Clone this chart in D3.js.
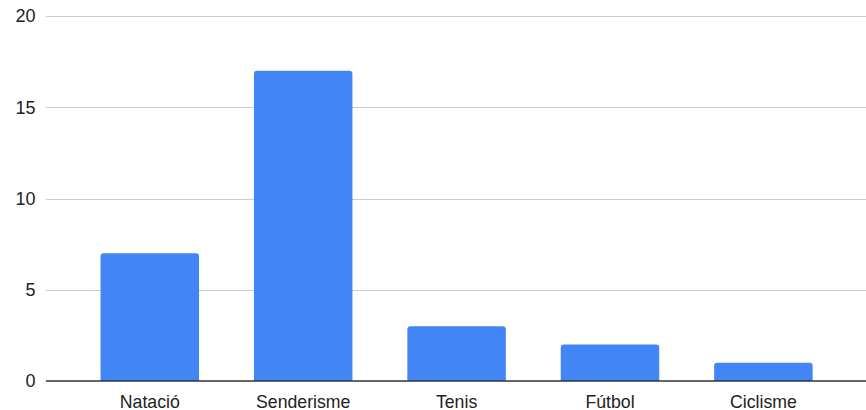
<!DOCTYPE html>
<html><head><meta charset="utf-8">
<script src="https://cdn.jsdelivr.net/npm/d3@7"></script>
<style>html,body{margin:0;padding:0;background:#fff;}svg{display:block;}</style>
</head><body>
<svg id="c" width="866" height="410"></svg>
<script>
const categories = ["Natació", "Senderisme", "Tenis", "Fútbol", "Ciclisme"];
const values = [7, 17, 3, 2, 1];
const yTicks = [0, 5, 10, 15, 20];

const W = 866, H = 410;
const svg = d3.select("#c");
const font = "'Liberation Sans', Arial, sans-serif";

const y = d3.scaleLinear().domain([0, 20]).range([381, 16]);
const x = d3.scaleBand().domain(categories).range([73.1, 840.1]).paddingInner(0.358).paddingOuter(0.179);

// gridlines
svg.append("g").selectAll("line").data(yTicks.filter(t => t !== 0)).join("line")
  .attr("x1", 46).attr("x2", 866)
  .attr("y1", d => Math.round(y(d)) + 0.5).attr("y2", d => Math.round(y(d)) + 0.5)
  .attr("stroke", "#cccccc").attr("stroke-width", 1);

// y labels
svg.append("g").selectAll("text").data(yTicks).join("text")
  .attr("x", 35.5).attr("y", d => y(d)).attr("dy", "0.35em")
  .attr("text-anchor", "end").attr("font-family", font).attr("font-size", 18).attr("fill", "#222")
  .text(d => d);

// bars with rounded top corners
const r = 3;
svg.append("g").selectAll("path").data(categories).join("path")
  .attr("d", (c, i) => {
    const x0 = x(c), x1 = x0 + x.bandwidth(), yt = y(values[i]), yb = y(0);
    return `M${x0},${yb}V${yt + r}Q${x0},${yt} ${x0 + r},${yt}H${x1 - r}Q${x1},${yt} ${x1},${yt + r}V${yb}Z`;
  })
  .attr("fill", "#4285f4");

// baseline
svg.append("line").attr("x1", 46).attr("x2", 866).attr("y1", 381).attr("y2", 381)
  .attr("stroke", "#333").attr("stroke-width", 1.5);

// x labels
svg.append("g").selectAll("text").data(categories).join("text")
  .attr("x", c => x(c) + x.bandwidth() / 2).attr("y", 407.5)
  .attr("text-anchor", "middle").attr("font-family", font).attr("font-size", 17.7).attr("fill", "#222")
  .text(c => c);
</script>
</body></html>
